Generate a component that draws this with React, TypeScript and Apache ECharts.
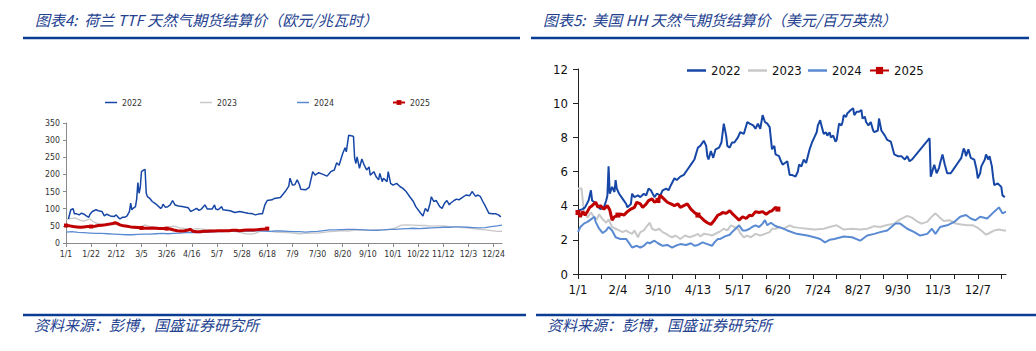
import React, { useEffect, useRef } from "react";
import * as echarts from "echarts";

// ---------- categories (days of a non-leap year) ----------
const MONTH_DAYS = [31, 28, 31, 30, 31, 30, 31, 31, 30, 31, 30, 31];
const DATES: string[] = [];
MONTH_DAYS.forEach((n, m) => {
  for (let d = 1; d <= n; d++) DATES.push(`${m + 1}/${d}`);
});

const YEARS = ["2022", "2023", "2024", "2025"];
const COLORS = ["#1747a6", "#c8c8c8", "#5a8ad2", "#c00000"];

// ---------- TTF (EUR/MWh): [dayIndex, value] ----------
const TTF_2022: [number, number][] = [
  [2,70],[4,97],[6,100],[7,85],[9,85],[11,82],[13,87],[15,84],[17,79],[19,75],[20,84],[22,92],[25,97],[27,94],[30,92],[32,79],[34,84],[37,79],[40,77],[42,82],[43,77],[45,70],[47,75],[49,75],[51,79],[53,92],[54,116],[55,97],[56,101],[58,106],[59,128],[60,176],[61,145],[62,162],[63,208],[65,213],[66,215],[67,145],[68,135],[70,130],[72,121],[74,116],[76,111],[79,101],[80,104],[81,113],[83,104],[85,106],[87,111],[89,124],[91,111],[94,108],[98,106],[102,103],[104,92],[106,95],[109,101],[111,95],[113,99],[116,111],[118,99],[122,99],[124,111],[125,99],[127,97],[130,106],[131,97],[137,94],[141,89],[145,92],[149,89],[152,87],[156,85],[158,82],[162,85],[164,85],[166,111],[168,124],[172,126],[174,130],[179,133],[183,150],[186,166],[187,189],[189,169],[191,170],[193,184],[195,169],[196,157],[200,155],[203,162],[206,208],[208,198],[211,205],[214,201],[218,195],[221,208],[224,213],[226,234],[228,227],[231,261],[233,278],[234,266],[236,314],[239,312],[240,311],[241,247],[242,232],[243,251],[245,218],[247,245],[249,227],[251,213],[253,222],[254,198],[257,208],[259,193],[261,184],[262,203],[264,179],[265,189],[268,179],[269,208],[271,174],[273,169],[276,174],[279,164],[281,160],[284,150],[287,135],[290,121],[292,106],[295,92],[298,79],[300,101],[302,92],[304,116],[305,135],[307,121],[309,124],[312,106],[314,101],[316,116],[318,124],[320,111],[321,116],[324,124],[326,128],[328,126],[331,133],[334,140],[337,138],[339,150],[342,136],[344,140],[346,135],[348,121],[350,108],[353,87],[356,85],[359,85],[361,82],[363,76]
];
const TTF_2023: [number, number][] = [
  [0,68],[4,72],[8,73],[12,66],[15,64],[18,68],[20,70],[23,62],[26,57],[30,54],[34,52],[38,54],[42,54],[46,50],[50,50],[54,46],[58,43],[62,45],[66,53],[70,48],[75,46],[80,44],[85,46],[90,49],[95,44],[100,42],[105,40],[110,42],[115,40],[120,38],[125,36],[130,35],[135,35],[140,34],[145,31],[150,27],[155,26],[158,28],[162,34],[166,36],[170,34],[175,32],[180,31],[185,30],[190,29],[195,27],[200,28],[205,29],[210,29],[215,31],[220,33],[225,34],[230,36],[235,35],[240,37],[245,38],[250,37],[255,38],[260,39],[265,38],[270,39],[275,44],[280,52],[285,53],[290,52],[295,51],[300,51],[305,49],[310,50],[315,50],[320,48],[325,47],[330,45],[335,44],[340,42],[345,40],[350,38],[355,36],[360,34],[364,34]
];
const TTF_2024: [number, number][] = [
  [0,32],[5,33],[10,31],[15,30],[20,29],[25,28],[30,28],[35,27],[40,26],[45,25],[50,24],[55,24],[60,25],[65,26],[70,26],[75,27],[80,28],[85,27],[90,28],[95,29],[100,30],[105,31],[110,30],[115,31],[120,32],[125,33],[130,33],[135,34],[140,34],[145,35],[150,35],[155,35],[160,36],[165,35],[170,34],[175,35],[180,35],[185,34],[190,33],[195,33],[200,32],[205,33],[210,34],[215,36],[220,38],[225,38],[230,39],[235,40],[240,40],[245,39],[250,38],[255,37],[260,37],[265,38],[270,40],[275,40],[280,41],[285,42],[290,43],[295,42],[300,43],[305,44],[310,45],[315,46],[320,46],[325,47],[330,47],[335,46],[340,45],[345,44],[350,45],[355,48],[360,50],[364,52]
];
const TTF_2025: [number, number][] = [
  [0,51],[3,50],[6,48],[9,47],[12,46],[15,47],[18,48],[21,48],[24,49],[27,51],[30,52],[33,53],[36,55],[39,57],[41,59],[43,57],[45,53],[48,50],[51,49],[54,47],[57,46],[60,45],[63,44],[66,43],[69,43],[72,44],[75,43],[78,42],[81,42],[84,42],[87,41],[90,38],[93,36],[96,35],[99,36],[102,38],[104,40],[106,34],[109,33],[112,33],[115,34],[118,34],[121,35],[124,35],[127,36],[130,36],[133,36],[136,36],[139,37],[142,37],[145,36],[148,37],[151,38],[154,38],[157,38],[160,39],[163,40],[166,41],[168,42]
];

// ---------- Henry Hub (USD/MMBtu): [dayIndex, value] ----------
const HH_2022: [number, number][] = [
  [0,3.7],[4,3.8],[6,3.9],[9,4.3],[11,4.9],[12,4.3],[14,4.2],[16,4.1],[19,3.8],[22,3.9],[24,4.3],[25,4.6],[26,6.3],[27,4.7],[29,5.1],[31,4.8],[32,5.5],[33,5.0],[35,4.7],[38,4.4],[41,4.1],[42,3.9],[45,4.1],[46,4.7],[48,4.5],[51,4.6],[53,4.5],[56,4.7],[58,4.6],[60,5.0],[62,4.9],[65,4.5],[67,4.7],[70,4.6],[72,4.9],[75,5.0],[77,4.9],[79,5.2],[82,5.6],[84,5.5],[87,5.7],[90,5.8],[93,6.1],[96,6.4],[99,6.7],[102,7.4],[104,7.5],[107,7.8],[109,7.5],[110,6.9],[111,6.7],[113,7.2],[115,6.8],[117,7.3],[120,7.4],[122,7.7],[124,8.8],[126,8.1],[127,7.5],[129,7.4],[131,7.7],[133,7.7],[136,8.0],[138,8.3],[141,8.2],[144,8.9],[146,8.8],[149,8.7],[151,8.5],[153,8.8],[155,8.5],[157,9.3],[159,8.9],[161,8.8],[163,8.6],[165,7.3],[167,7.5],[168,7.0],[171,6.9],[172,6.7],[174,6.4],[176,6.5],[178,6.6],[180,5.8],[182,5.8],[185,5.7],[187,6.0],[188,6.4],[190,6.3],[192,6.7],[194,6.5],[197,7.3],[198,7.5],[199,7.7],[201,8.0],[203,8.3],[204,8.7],[206,9.0],[207,8.7],[209,8.2],[211,8.3],[212,8.1],[214,8.3],[215,8.0],[217,8.1],[219,7.75],[220,7.85],[222,8.8],[224,8.7],[225,8.9],[226,9.3],[228,9.2],[229,9.4],[232,9.6],[234,9.7],[235,9.3],[237,9.5],[239,9.5],[241,9.6],[242,9.1],[244,9.2],[245,8.9],[247,8.7],[249,8.9],[251,8.4],[252,8.3],[255,8.4],[256,9.1],[258,8.4],[259,8.3],[261,8.1],[263,7.85],[266,7.75],[269,7.0],[272,6.9],[275,6.9],[278,6.7],[280,6.9],[282,6.6],[284,6.7],[299,7.95],[300,5.7],[303,6.4],[305,5.9],[307,6.2],[308,6.5],[310,7.0],[312,6.4],[314,5.9],[317,5.9],[320,6.2],[323,6.5],[326,6.8],[328,7.35],[329,7.2],[330,6.9],[332,7.3],[334,6.8],[337,6.7],[339,6.1],[340,5.6],[342,5.9],[343,6.3],[346,6.7],[347,7.0],[349,6.7],[350,6.9],[352,6.3],[353,5.7],[354,5.2],[357,5.3],[360,5.1],[361,4.6],[363,4.5]
];
const HH_2023: [number, number][] = [
  [0,5.0],[3,5.0],[5,3.7],[8,3.3],[11,3.6],[14,3.3],[16,3.2],[18,3.5],[21,3.2],[24,3.0],[26,3.2],[29,2.75],[32,2.65],[35,2.55],[38,2.45],[41,2.55],[43,2.45],[46,2.35],[48,2.55],[51,2.15],[53,2.45],[56,2.55],[58,2.75],[61,3.0],[63,2.65],[66,2.55],[69,2.65],[72,2.45],[75,2.35],[77,2.25],[80,2.15],[83,2.25],[87,2.05],[91,2.25],[95,2.15],[99,2.25],[102,2.35],[104,2.2],[107,2.35],[112,2.3],[114,2.25],[118,2.4],[121,2.5],[124,2.65],[127,2.55],[130,2.85],[133,2.75],[136,2.65],[138,2.4],[141,2.15],[144,2.25],[147,2.15],[151,2.35],[155,2.25],[159,2.35],[163,2.45],[165,2.65],[168,2.65],[171,2.75],[175,2.65],[180,2.85],[183,2.75],[188,2.7],[195,2.65],[201,2.6],[209,2.65],[214,2.75],[220,2.85],[226,2.6],[233,2.65],[240,2.6],[246,2.65],[252,2.8],[257,2.75],[262,2.85],[269,2.95],[274,3.2],[280,3.4],[284,3.3],[288,3.1],[292,2.95],[297,3.05],[300,3.3],[304,3.55],[307,3.35],[311,3.1],[316,3.15],[321,2.95],[326,2.9],[331,2.85],[336,2.85],[340,2.7],[343,2.55],[347,2.3],[350,2.4],[354,2.55],[358,2.6],[362,2.55],[364,2.55]
];
const HH_2024: [number, number][] = [
  [0,2.45],[2,2.75],[5,2.95],[8,3.05],[11,3.2],[14,3.35],[15,3.05],[18,2.65],[21,2.4],[24,2.55],[26,2.75],[29,2.55],[32,2.15],[36,2.05],[41,2.05],[43,1.85],[46,1.55],[50,1.65],[53,1.55],[56,1.65],[59,1.85],[61,1.8],[65,1.95],[68,1.8],[72,1.65],[76,1.7],[80,1.55],[83,1.65],[87,1.75],[92,1.7],[96,1.8],[99,1.65],[102,1.7],[106,1.85],[110,1.75],[114,1.65],[116,1.85],[119,2.05],[121,2.05],[125,2.2],[129,2.3],[131,2.45],[134,2.65],[137,2.85],[140,2.55],[143,2.55],[146,2.65],[148,2.75],[151,2.85],[154,2.75],[157,2.95],[159,3.15],[161,2.85],[164,3.0],[167,2.85],[170,2.75],[173,2.7],[178,2.55],[186,2.35],[195,2.25],[201,2.15],[206,2.05],[210,1.85],[214,2.0],[218,2.05],[226,2.2],[233,2.15],[240,1.95],[246,2.25],[252,2.35],[257,2.45],[263,2.55],[270,2.95],[274,2.95],[280,2.65],[286,2.45],[291,2.25],[297,2.35],[301,2.65],[304,2.35],[308,2.75],[314,2.85],[320,3.05],[325,3.35],[330,3.45],[334,3.25],[338,3.15],[342,3.35],[348,3.25],[354,3.65],[358,3.9],[361,3.55],[364,3.65]
];
const HH_2025: [number, number][] = [
  [0,3.6],[2,3.35],[4,3.65],[6,3.45],[8,3.65],[10,3.9],[12,4.0],[15,4.2],[17,3.9],[19,4.0],[22,3.8],[25,4.0],[27,3.75],[29,3.15],[31,3.35],[34,3.45],[37,3.5],[39,3.45],[42,3.65],[45,3.8],[48,3.9],[50,4.2],[53,4.1],[55,3.9],[58,4.1],[60,4.3],[63,4.4],[65,4.2],[68,4.3],[70,4.6],[73,4.4],[76,4.2],[79,4.1],[82,4.0],[85,4.1],[87,3.9],[90,4.0],[93,4.1],[96,3.8],[99,3.6],[102,3.45],[104,3.35],[107,3.15],[110,3.0],[113,2.9],[116,3.15],[119,3.45],[121,3.5],[123,3.6],[126,3.55],[129,3.7],[131,3.55],[134,3.35],[137,3.15],[140,3.35],[143,3.25],[146,3.45],[148,3.4],[151,3.65],[154,3.6],[157,3.65],[160,3.5],[163,3.65],[165,3.7],[168,3.9],[170,3.8]
];

const TTF_DATA = [TTF_2022, TTF_2023, TTF_2024, TTF_2025];
const HH_DATA = [HH_2022, HH_2023, HH_2024, HH_2025];

const TITLE_LEFT = "图表4:  荷兰 TTF 天然气期货结算价（欧元/兆瓦时）";
const TITLE_RIGHT = "图表5:  美国 HH 天然气期货结算价（美元/百万英热）";
const SOURCE = "资料来源：彭博，国盛证券研究所";

const NUM_FONT = "'DejaVu Sans Condensed', 'Liberation Sans', sans-serif";
const CJK_FONT = "'Noto Sans CJK SC', sans-serif";
const HEAD_BLUE = "#23418f";
const RULE_BLUE = "#0b3c93";

export default function App() {
  const ref = useRef<HTMLDivElement>(null);
  useEffect(() => {
    const chart = echarts.init(ref.current!, null, { renderer: "svg" });

    const leftSeries = YEARS.map((name, i) => ({
      name,
      type: "line",
      xAxisIndex: 0,
      yAxisIndex: 0,
      data: TTF_DATA[i],
      showSymbol: i === 3,
      symbol: i === 3 ? "rect" : "none",
      symbolSize: 4,
      z: i === 3 ? 5 : i === 0 ? 4 : 3,
      lineStyle: { color: COLORS[i], width: i === 3 ? 3 : i === 0 ? 1.5 : 1.3 },
      itemStyle: { color: COLORS[i] },
    }));
    const rightSeries = YEARS.map((name, i) => ({
      name,
      type: "line",
      xAxisIndex: 1,
      yAxisIndex: 1,
      data: HH_DATA[i],
      showSymbol: i === 3,
      symbol: i === 3 ? "rect" : "none",
      symbolSize: 5,
      z: i === 3 ? 5 : i === 0 ? 4 : 3,
      lineStyle: { color: COLORS[i], width: i === 3 ? 3 : 2 },
      itemStyle: { color: COLORS[i] },
    }));

    const leftLegendX = [105, 200, 297, 392];
    const rightLegendX = [687, 748, 808, 869];
    const legends: any[] = [];
    YEARS.forEach((name, i) => {
      const isLast = i === 3;
      legends.push({
        data: [isLast ? { name } : { name, icon: "rect" }],
        left: leftLegendX[i],
        top: 98,
        padding: 0,
        itemWidth: 12,
        itemHeight: isLast ? 6 : 1.5,
        itemGap: 4,
        selectedMode: false,
        textStyle: { fontFamily: NUM_FONT, fontSize: 8.7, color: "#333" },
      });
      legends.push({
        data: [isLast ? { name } : { name, icon: "rect" }],
        left: rightLegendX[i],
        top: 64,
        padding: 0,
        itemWidth: 19,
        itemHeight: isLast ? 9 : 2.5,
        itemGap: 4,
        selectedMode: false,
        textStyle: { fontFamily: NUM_FONT, fontSize: 13, color: "#111" },
      });
    });

    const option: any = {
      animation: false,
      backgroundColor: "#ffffff",
      legend: legends,
      grid: [
        { left: 66, top: 123, width: 436, height: 120, containLabel: false },
        { left: 578, top: 69, width: 428, height: 205, containLabel: false },
      ],
      xAxis: [
        {
          type: "category",
          gridIndex: 0,
          data: DATES,
          boundaryGap: false,
          axisLine: { lineStyle: { color: "#8a8a8a", width: 1 } },
          axisTick: { show: true, interval: 20, length: 4, lineStyle: { color: "#8a8a8a" } },
          axisLabel: { interval: 20, margin: 6, fontFamily: NUM_FONT, fontSize: 8.7, color: "#333" },
          splitLine: { show: false },
        },
        {
          type: "category",
          gridIndex: 1,
          data: DATES,
          boundaryGap: false,
          axisLine: { lineStyle: { color: "#222", width: 1 } },
          axisTick: { show: true, interval: 19, length: 5, lineStyle: { color: "#222" } },
          axisLabel: { interval: 33, margin: 9, fontFamily: NUM_FONT, fontSize: 13, color: "#111" },
          splitLine: { show: false },
        },
      ],
      yAxis: [
        {
          type: "value",
          gridIndex: 0,
          min: 0,
          max: 350,
          interval: 50,
          axisLine: { show: true, lineStyle: { color: "#8a8a8a", width: 1 } },
          axisTick: { show: true, length: 3, lineStyle: { color: "#8a8a8a" } },
          axisLabel: { margin: 6, fontFamily: NUM_FONT, fontSize: 8.7, color: "#333" },
          splitLine: { show: false },
        },
        {
          type: "value",
          gridIndex: 1,
          min: 0,
          max: 12,
          interval: 2,
          axisLine: { show: true, lineStyle: { color: "#222", width: 1 } },
          axisTick: { show: true, length: 5, lineStyle: { color: "#222" } },
          axisLabel: { margin: 10, fontFamily: NUM_FONT, fontSize: 13, color: "#111" },
          splitLine: { show: false },
        },
      ],
      series: [...leftSeries, ...rightSeries],
      graphic: [
        {
          type: "text",
          left: 35,
          top: 12,
          style: { text: TITLE_LEFT, font: `italic 15px ${CJK_FONT}`, fill: HEAD_BLUE },
        },
        {
          type: "text",
          left: 543,
          top: 12,
          style: { text: TITLE_RIGHT, font: `italic 15px ${CJK_FONT}`, fill: HEAD_BLUE },
        },
        { type: "line", shape: { x1: 23, y1: 38, x2: 520, y2: 38 }, style: { stroke: RULE_BLUE, lineWidth: 2.5 } },
        { type: "line", shape: { x1: 531, y1: 38, x2: 1029, y2: 38 }, style: { stroke: RULE_BLUE, lineWidth: 2.5 } },
        { type: "line", shape: { x1: 23, y1: 315, x2: 526, y2: 315 }, style: { stroke: RULE_BLUE, lineWidth: 2.5 } },
        { type: "line", shape: { x1: 536, y1: 315, x2: 1036, y2: 315 }, style: { stroke: RULE_BLUE, lineWidth: 2.5 } },
        {
          type: "text",
          left: 34,
          top: 317,
          style: { text: SOURCE, font: `italic 15px ${CJK_FONT}`, fill: HEAD_BLUE },
        },
        {
          type: "text",
          left: 547,
          top: 317,
          style: { text: SOURCE, font: `italic 15px ${CJK_FONT}`, fill: HEAD_BLUE },
        },
      ],
    };
    chart.setOption(option);
    return () => chart.dispose();
  }, []);
  return (
    <div
      ref={ref}
      style={{ position: "fixed", left: 0, top: 0, width: 1036, height: 351, background: "#fff" }}
    />
  );
}
